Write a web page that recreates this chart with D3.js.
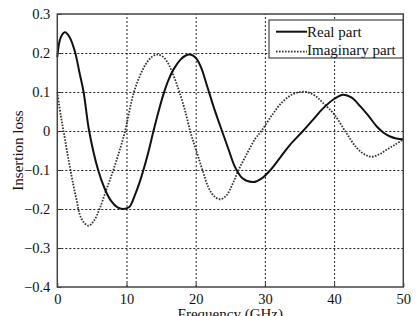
<!DOCTYPE html>
<meta charset="utf-8">
<script src="https://cdn.jsdelivr.net/npm/d3@7"></script>
<style>
	body{margin:0;background:#fff;}
	svg text{font-family:"Liberation Serif","Times New Roman","DejaVu Serif",serif !important;fill:#111;}
	.grid line{stroke:#222;stroke-dasharray:2,2;stroke-width:1;}
	.grid path{display:none;}
</style>
<div id="chart"></div>
<script>
// frequency (GHz), value pairs
var realFreq = [0,0.5,1.1,1.8,2.6,3.2,3.8,4.6,5.9,6.9,7.8,8.7,9.5,10.4,11.2,12.0,13.0,13.9,14.6,15.3,16.0,16.8,17.8,18.5,19.2,20.0,20.8,21.6,22.7,23.8,24.8,25.7,26.8,28.3,29.5,30.8,32.2,33.6,35.5,37.0,38.4,40.0,41.3,42.5,43.8,45.0,46.2,47.2,48.1,49.0,50]
var realVal = [0.19,0.24,0.253,0.24,0.2,0.15,0.1,0,-0.1,-0.15,-0.18,-0.196,-0.2,-0.195,-0.165,-0.126,-0.065,0,0.048,0.092,0.128,0.158,0.183,0.193,0.196,0.188,0.162,0.118,0.056,0,-0.05,-0.093,-0.122,-0.131,-0.122,-0.1,-0.068,-0.036,0,0.03,0.058,0.082,0.093,0.086,0.063,0.038,0.011,-0.005,-0.014,-0.019,-0.021]
var imagFreq = [0,0.5,0.9,1.9,2.7,3.5,4.5,5.3,6.1,7.1,8.1,9.0,9.8,10.4,11.0,11.9,12.8,13.6,14.4,15.3,16.0,16.5,17.1,17.7,18.5,19.2,19.8,20.4,21.1,21.8,22.6,23.5,24.4,25.3,26.2,27.5,28.6,29.5,31.0,32.3,33.6,34.8,36.0,37.2,38.4,40.0,41.8,43.3,44.4,45.4,46.5,47.6,48.8,50]
var imagVal = [0.1,0.04,0,-0.1,-0.17,-0.225,-0.243,-0.23,-0.2,-0.15,-0.1,-0.05,0,0.05,0.095,0.14,0.172,0.189,0.196,0.19,0.174,0.155,0.128,0.097,0.05,0,-0.035,-0.068,-0.107,-0.143,-0.166,-0.175,-0.166,-0.137,-0.1,-0.055,-0.02,0,0.04,0.07,0.09,0.099,0.1,0.091,0.072,0.043,-0.006,-0.044,-0.06,-0.066,-0.06,-0.048,-0.035,-0.022]
var xTicks = [0,10,20,30,40,50]
var yTicks = [0.3,0.2,0.1,0,-0.1,-0.2,-0.3,-0.4]
var seriesNames = ["Real part","Imaginary part"]

var W = 418, H = 316
var m = {left:57.3, right:14.7, top:14, bottom:29}
var w = W-m.left-m.right, h = H-m.top-m.bottom

var svg = d3.select("#chart").append("svg").attr("width",W).attr("height",H)
var g = svg.append("g").attr("transform","translate("+m.left+","+m.top+")")

var x = d3.scaleLinear().domain([0,50]).range([0,w])
var y = d3.scaleLinear().domain([-0.4,0.3]).range([h,0])

var yFmt = function(d){ return d===0 ? "0" : d3.format(".1f")(d) }

// grid
g.append("g").attr("class","grid").attr("transform","translate(0,"+h+")")
	.call(d3.axisBottom(x).tickValues(xTicks.slice(1,-1)).tickSize(-h).tickFormat(""))
g.append("g").attr("class","grid")
	.call(d3.axisLeft(y).tickValues(yTicks.slice(1,-1)).tickSize(-w).tickFormat(""))

// lines
var realData = realFreq.map(function(f,i){ return {f:f,v:realVal[i]} })
var imagData = imagFreq.map(function(f,i){ return {f:f,v:imagVal[i]} })
var line = d3.line().curve(d3.curveCatmullRom.alpha(0.5))
	.x(function(d){ return x(d.f) }).y(function(d){ return y(d.v) })

g.append("path").datum(imagData).attr("fill","none").attr("stroke","#333")
	.attr("stroke-width",1.8).attr("stroke-dasharray","1.6,1.4").attr("d",line)
g.append("path").datum(realData).attr("fill","none").attr("stroke","#111")
	.attr("stroke-width",2).attr("d",line)

// axes
var xAxis = g.append("g").attr("transform","translate(0,"+h+")")
	.call(d3.axisBottom(x).tickValues(xTicks).tickSize(-4).tickPadding(7).tickFormat(d3.format("d")))
var yAxis = g.append("g")
	.call(d3.axisLeft(y).tickValues(yTicks).tickSize(-4).tickPadding(7).tickFormat(yFmt))
;[xAxis,yAxis].forEach(function(a){
	a.attr("font-family",null)
	a.selectAll("text").style("font-size","14.5px")
	a.select(".domain").remove()
	a.selectAll(".tick line").attr("stroke","#333")
})
// box
g.append("rect").attr("width",w).attr("height",h).attr("fill","none")
	.attr("stroke","#444").attr("stroke-width",1.5)

// titles
svg.append("text").attr("x",m.left+w/2).attr("y",319).attr("text-anchor","middle")
	.style("font-size","15px").text("Frequency (GHz)")
svg.append("text").attr("transform","translate(23,"+(m.top+h/2)+") rotate(-90)")
	.attr("text-anchor","middle").style("font-size","15px").text("Insertion loss")

// legend
var lg = svg.append("g").attr("transform","translate(269,20)")
lg.append("rect").attr("width",134).attr("height",38).attr("fill","#fff")
	.attr("stroke","#444").attr("stroke-width",1.2)
lg.append("line").attr("x1",7).attr("x2",38).attr("y1",11.7).attr("y2",11.7)
	.attr("stroke","#111").attr("stroke-width",2)
lg.append("line").attr("x1",7).attr("x2",38).attr("y1",31.7).attr("y2",31.7)
	.attr("stroke","#333").attr("stroke-width",1.8).attr("stroke-dasharray","1.6,1.4")
lg.selectAll("text").data(seriesNames).enter().append("text")
	.attr("x",38).attr("y",function(d,i){ return 16.5+i*18 })
	.style("font-size","15px").text(function(d){ return d })
</script>
